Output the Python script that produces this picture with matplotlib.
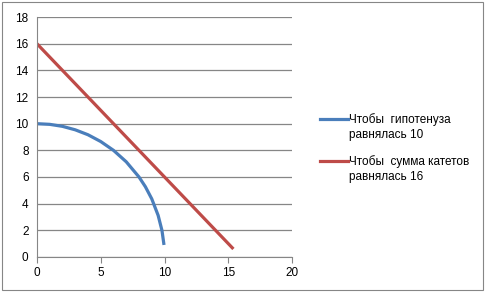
import matplotlib.pyplot as plt
from matplotlib.patches import Rectangle
from matplotlib.lines import Line2D

# points
hyp_x = [0, 1, 2, 3, 4, 5, 6, 7, 8, 8.5, 9, 9.5, 9.8, 9.96]
hyp_y = [10, 9.95, 9.8, 9.54, 9.17, 8.66, 8.0, 7.14, 6.0, 5.27, 4.36, 3.12, 1.99, 0.9]
sum_x = [0, 5, 10, 15.4]
sum_y = [16, 11, 6, 0.6]

labels = ["Чтобы  гипотенуза\nравнялась 10", "Чтобы  сумма катетов\nравнялась 16"]
colors = ["#4A7EBB", "#BE4B48"]

plt.rcParams['font.family'] = ['Liberation Sans', 'DejaVu Sans']

W, H = 486, 294
fig = plt.figure(figsize=(W / 100, H / 100), dpi=100)
fig.patches.append(Rectangle((0.004, 0.012), 0.99, 0.982, transform=fig.transFigure,
                             fill=False, edgecolor="#868686", linewidth=0.8))
ax = fig.add_axes([0.076, 0.126, 0.525, 0.816])

ax.plot(hyp_x, hyp_y, color=colors[0], linewidth=2.3, solid_capstyle="butt")
ax.plot(sum_x, sum_y, color=colors[1], linewidth=2.3, solid_capstyle="butt")

ax.set_xlim(0, 20)
ax.set_ylim(0, 18)
ax.set_xticks([0, 5, 10, 15, 20])
ax.set_yticks(range(0, 19, 2))
ax.yaxis.grid(True, color="#868686", linewidth=0.9)
ax.set_axisbelow(True)
for s in ["top", "right"]:
    ax.spines[s].set_visible(False)
ax.spines["left"].set_color("#868686")
ax.spines["bottom"].set_color("#868686")
ax.tick_params(axis="x", direction="out", length=4, color="#868686", labelsize=8.5, pad=3)
ax.tick_params(axis="y", length=0, labelsize=8.5, pad=6)

# legend drawn by hand: handle level with the first text line
for i, (lab, col) in enumerate(zip(labels, colors)):
    yy = 1 - (119 + 42 * i) / H
    fig.lines.append(Line2D([320 / W, 348 / W], [yy, yy], transform=fig.transFigure,
                            color=col, linewidth=2.3))
    fig.text(349 / W, yy + 6 / H, lab, fontsize=8.5, va="top", ha="left",
             linespacing=1.3)

fig.savefig("out.png", dpi=100)
